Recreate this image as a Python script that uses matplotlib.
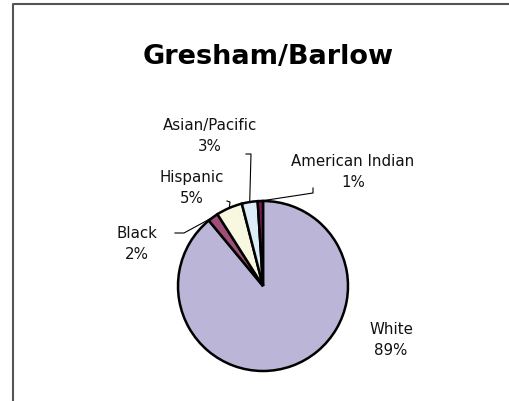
import numpy as np
import matplotlib
matplotlib.use("Agg")
import matplotlib.pyplot as plt

# Ethnic makeup of the Gresham/Barlow area (percent)
categories = ["White", "Black", "Hispanic", "Asian/Pacific", "American Indian"]
values = [89, 2, 5, 3, 1]
colors = ["#BBB5D8", "#A04E78", "#F8F8E0", "#DDEDF8", "#7A1C5C"]
title = "Gresham/Barlow"

W, H = 510, 401
fig = plt.figure(figsize=(W / 100, H / 100), dpi=100)
ax = fig.add_axes([0, 0, 1, 1])

# chart frame (left and top edges)
ax.plot([13.5, 13.5, W], [0, H - 3.5, H - 3.5], color="#555555", lw=1.5,
        solid_capstyle="butt", clip_on=False)

cx, cy, r = 263, H - 286, 85
wedges, _ = ax.pie(values, colors=colors, startangle=90, counterclock=False,
                   center=(cx, cy), radius=r, frame=True,
                   wedgeprops=dict(edgecolor="black", linewidth=1.8))
ax.set_xlim(0, W)
ax.set_ylim(0, H)
ax.set_aspect("equal")
ax.axis("off")

ax.text(268, H - 57, title, ha="center", va="center", fontsize=19.5,
        fontweight="bold", family="DejaVu Sans")

# label positions (centre of the two-line text) and leader elbows
labels_pos = {
    "White": (391, 340),
    "Black": (137, 244),
    "Hispanic": (192, 188),
    "Asian/Pacific": (210, 136),
    "American Indian": (353, 172),
}
elbows = {
    "Black": [(175, 233), (184, 233)],
    "Hispanic": [(227, 201), (230, 202)],
    "Asian/Pacific": [(246, 154), (251, 154)],
    "American Indian": [(313, 188), (313, 193)],
}

for w, name, v in zip(wedges, categories, values):
    lx, ly = labels_pos[name]
    ax.text(lx, H - ly, f"{name}\n{v}%", ha="center", va="center",
            fontsize=10.8, family="DejaVu Sans", color="#111111",
            linespacing=1.5)
    if name in elbows:
        mid = np.deg2rad((w.theta1 + w.theta2) / 2)
        ex, ey = cx + r * np.cos(mid), cy + r * np.sin(mid)
        pts = [(x, H - y) for x, y in elbows[name]] + [(ex, ey)]
        xs, ys = zip(*pts)
        ax.plot(xs, ys, color="black", lw=0.8)

fig.savefig("out.png", dpi=100, facecolor="white")
